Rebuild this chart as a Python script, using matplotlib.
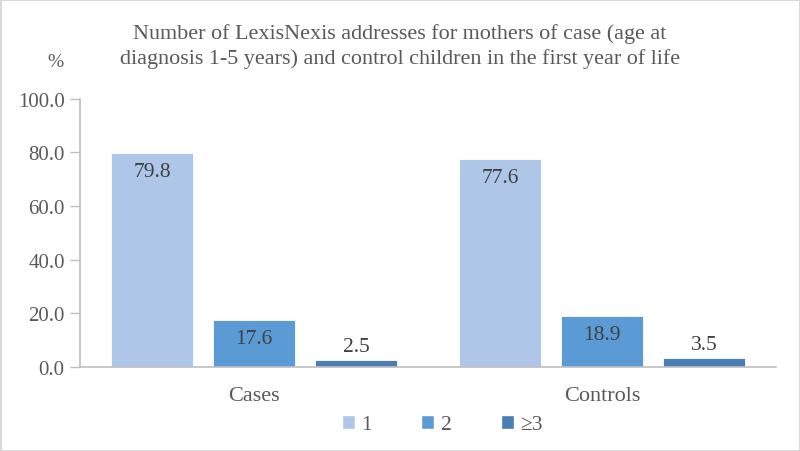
import numpy as np
import matplotlib.pyplot as plt
from matplotlib.patches import Patch

plt.rcParams['font.family'] = ['Liberation Serif', 'DejaVu Serif']

# Data
groups = ['Cases', 'Controls']
series = ['1', '2', '≥3']
values = {
    '1': [79.8, 77.6],
    '2': [17.6, 18.9],
    '≥3': [2.5, 3.5],
}
yticks = [0, 20, 40, 60, 80, 100]
colors = ['#AEC7E8', '#5B9BD5', '#4A7EB5']
txt = '#595959'
axis_grey = '#BFBFBF'

fig = plt.figure(figsize=(8, 4.52), dpi=100, facecolor='white',
                 edgecolor='#D9D9D9', linewidth=2)
ax = fig.add_axes([0.1, 0.186, 0.87, 0.593])

x = np.arange(len(groups))
step = 0.293
width = 0.236
for i, (name, c) in enumerate(zip(series, colors)):
    pos = x + (i - 1) * step
    vals = values[name]
    ax.bar(pos, vals, width=width, color=c, edgecolor='white', linewidth=0.6)
    for px, v in zip(pos, vals):
        if v > 10:
            ax.text(px, v - 3.3, f'{v:.1f}', ha='center', va='top',
                    fontsize=15.5, color='#404040')
        else:
            ax.text(px, v + 1.5, f'{v:.1f}', ha='center', va='bottom',
                    fontsize=15.5, color='#404040')

ax.set_xlim(-0.5, 1.5)
ax.set_ylim(0, 100)
ax.set_yticks(yticks)
ax.set_yticklabels([f'{t:.1f}' for t in yticks], fontsize=15, color=txt)
ax.set_xticks(x)
ax.set_xticklabels(groups, fontsize=16, color=txt)
ax.tick_params(axis='x', length=0, pad=14)
ax.tick_params(axis='y', length=7, width=1, color=axis_grey, pad=4)
for s in ['top', 'right']:
    ax.spines[s].set_visible(False)
for s in ['left', 'bottom']:
    ax.spines[s].set_color(axis_grey)
    ax.spines[s].set_linewidth(1.2)

fig.text(0.5, 0.897, 'Number of LexisNexis addresses for mothers of case (age at\n'
         'diagnosis 1-5 years) and control children in the first year of life',
         ha='center', va='center', fontsize=15.9, color=txt, linespacing=1.38)
fig.text(0.069, 0.862, '%', ha='center', va='center', fontsize=14, color=txt)

handles = [Patch(facecolor=c, edgecolor='white', label=s) for s, c in zip(series, colors)]
fig.legend(handles=handles, loc='center', bbox_to_anchor=(0.553, 0.058), ncol=3,
           frameon=False, fontsize=15.5, labelcolor=txt, handlelength=0.6,
           handleheight=0.6, handletextpad=0.3, columnspacing=2.3)

fig.savefig('out.png', dpi=100, facecolor='white', edgecolor='#D9D9D9')
